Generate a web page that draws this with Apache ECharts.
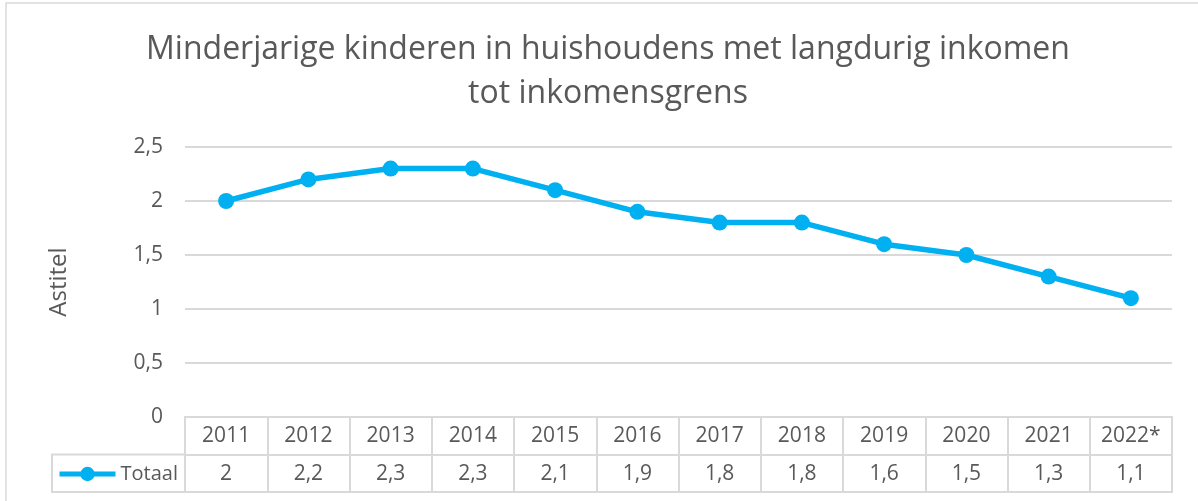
<!DOCTYPE html>
<html>
<head>
<meta charset="utf-8">
<script src="https://cdn.jsdelivr.net/npm/echarts@6/dist/echarts.min.js"></script>
<style>
	html, body { margin: 0; padding: 0; background: #fff; }
	#main { width: 1198px; height: 501px; }
</style>
</head>
<body>
<div id="main"></div>
<script>
var jaren = ['2011', '2012', '2013', '2014', '2015', '2016', '2017', '2018', '2019', '2020', '2021', '2022*'];
var totaal = [2, 2.2, 2.3, 2.3, 2.1, 1.9, 1.8, 1.8, 1.6, 1.5, 1.3, 1.1];
var yTicks = [0, 0.5, 1, 1.5, 2, 2.5];

function komma(v) {
	return String(v).replace('.', ',');
}

var grijs = '#595959';
var lijn = '#d9d9d9';
var font = '"Open Sans", sans-serif';

var myChart = echarts.init(document.getElementById('main'));
var option = {
	animation: false,
	backgroundColor: '#fff',
	title: {
		text: 'Minderjarige kinderen in huishoudens met langdurig inkomen\ntot inkomensgrens',
		left: 603,
		top: 23,
		textAlign: 'center',
		textStyle: {
			fontFamily: font,
			fontSize: 32,
			fontWeight: 'normal',
			color: grijs,
			lineHeight: 44
		}
	},
	legend: {
		left: 57,
		top: 464,
		padding: 0,
		itemWidth: 56,
		itemHeight: 18,
		lineStyle: { width: 5 },
		textStyle: {
			fontFamily: font,
			fontSize: 20,
			color: grijs
		},
		data: ['Totaal']
	},
	grid: [{
		left: 185, right: 26, top: 147, height: 270
	}, {
		left: 185, right: 26, top: 417, height: 75,
		show: true, borderColor: lijn, borderWidth: 2
	}],
	xAxis: [{
		gridIndex: 0,
		type: 'category',
		data: jaren,
		boundaryGap: true,
		axisLine: { show: false },
		axisTick: { show: false },
		axisLabel: { show: false }
	}, {
		gridIndex: 1,
		type: 'category',
		data: jaren,
		position: 'top',
		boundaryGap: true,
		axisLine: { show: false },
		axisTick: { show: false },
		splitLine: { show: true, interval: 0, lineStyle: { color: lijn, width: 2 } },
		axisLabel: {
			inside: true,
			interval: 0,
			margin: 19,
			verticalAlign: 'middle',
			fontFamily: font,
			fontSize: 21,
			color: grijs
		}
	}, {
		gridIndex: 1,
		type: 'category',
		data: jaren,
		position: 'bottom',
		boundaryGap: true,
		axisLine: { show: false },
		axisTick: { show: false },
		axisLabel: {
			inside: true,
			interval: 0,
			margin: 18,
			verticalAlign: 'middle',
			fontFamily: font,
			fontSize: 21,
			color: grijs,
			formatter: function(v, i) {
				return komma(totaal[i]);
			}
		}
	}],
	yAxis: [{
		gridIndex: 0,
		type: 'value',
		min: yTicks[0],
		max: yTicks[yTicks.length - 1],
		interval: 0.5,
		name: 'Astitel',
		nameLocation: 'middle',
		nameRotate: 90,
		nameGap: 114,
		nameTextStyle: {
			fontFamily: font,
			fontSize: 24,
			color: grijs
		},
		axisLine: { show: false },
		axisTick: { show: false },
		splitLine: { lineStyle: { color: lijn, width: 2 } },
		axisLabel: {
			margin: 22,
			fontFamily: font,
			fontSize: 21,
			color: grijs,
			formatter: komma
		}
	}, {
		gridIndex: 1,
		type: 'category',
		data: ['a', 'b'],
		axisLine: { show: false },
		axisTick: { show: false },
		axisLabel: { show: false },
		splitLine: { show: true, interval: 0, lineStyle: { color: lijn, width: 2 } }
	}],
	graphic: [{
		type: 'rect',
		shape: { x: 6, y: 3, width: 1250, height: 600 },
		style: { fill: 'none', stroke: lijn, lineWidth: 1.5 },
		silent: true
	}, {
		type: 'rect',
		shape: { x: 52, y: 454.5, width: 133, height: 37.5 },
		style: { fill: 'none', stroke: lijn, lineWidth: 2 },
		silent: true
	}],
	series: [{
		name: 'Totaal',
		type: 'line',
		xAxisIndex: 0,
		yAxisIndex: 0,
		data: totaal,
		symbol: 'circle',
		symbolSize: 16,
		color: '#00b0f0',
		lineStyle: { width: 5.5, color: '#00b0f0' },
		itemStyle: { color: '#00b0f0' }
	}]
};
myChart.setOption(option);
</script>
</body>
</html>
